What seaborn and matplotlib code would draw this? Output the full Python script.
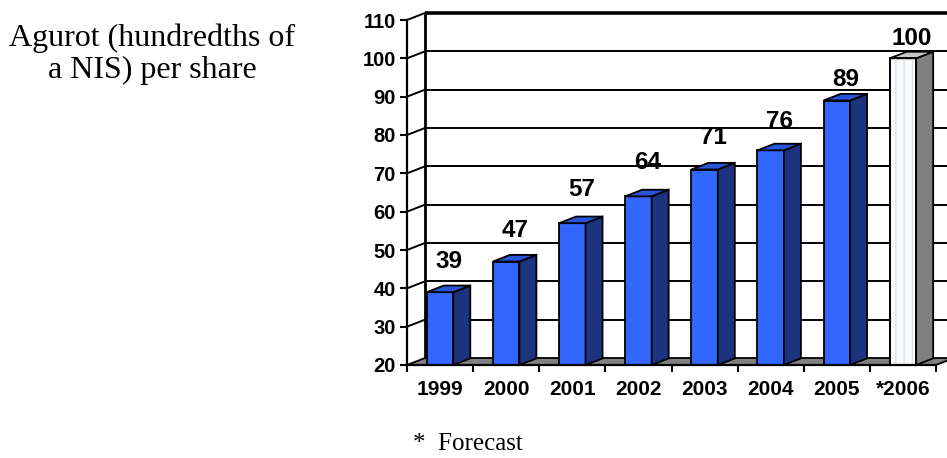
import matplotlib
matplotlib.use("Agg")
import matplotlib.pyplot as plt
import seaborn as sns
import pandas as pd
from matplotlib.patches import Polygon, Rectangle

# ---- data ----
years = ["1999", "2000", "2001", "2002", "2003", "2004", "2005", "*2006"]
values = [39, 47, 57, 64, 71, 76, 89, 100]
y_ticks = [20, 30, 40, 50, 60, 70, 80, 90, 100, 110]
y_label_text = "Agurot (hundredths of\na NIS) per share"
footnote_text = "*  Forecast"

# ---- style ----
label_pad_px = [24, 24, 27, 27, 25, 22, 14, 13]   # gap of value-label centre above bar top (px)
front_cols = ["#3366FF"] * 7 + ["#FAFBFF"]
side_cols = ["#1C3380"] * 7 + ["#808080"]
top_cols = ["#2B55D8"] * 7 + ["#C8C8C8"]

sns.set_style("white")
plt.rcParams["font.family"] = ["Liberation Sans", "DejaVu Sans"]
plt.rcParams["text.color"] = "black"
plt.rcParams["xtick.color"] = "black"
plt.rcParams["ytick.color"] = "black"
plt.rcParams["axes.edgecolor"] = "black"

W, H = 947, 458
fig = plt.figure(figsize=(W / 100, H / 100), dpi=100)
x0, x1, ytop, ybot = 407, 936, 20, 365
ax = fig.add_axes([x0 / W, (H - ybot) / H, (x1 - x0) / W, (ybot - ytop) / H])

df = pd.DataFrame({"year": years, "value": values})
sns.barplot(data=df, x="year", y="value", hue="year", palette=front_cols,
            width=0.4, edgecolor="black", linewidth=1.3, legend=False,
            order=years, ax=ax, zorder=4, saturation=1)
ax.set_xlim(-0.5, 7.5)
ax.set_ylim(20, 110)

ppx = (x1 - x0) / 8.0            # px per category
ppy = (ybot - ytop) / 90.0       # px per value unit
dx = 18 / ppx
dy = 7 / ppy
bdx = 17 / ppx
bdy = 6.6 / ppy

# back wall grid lines & connectors
for v in y_ticks[1:]:
    lw = 2.6 if v == 110 else 1.4
    ax.plot([-0.5 + dx, 7.5 + dx], [v + dy, v + dy], color="black", lw=lw,
            clip_on=False, zorder=1, solid_capstyle="butt")
    ax.plot([-0.5, -0.5 + dx], [v, v + dy], color="black", lw=1.4,
            clip_on=False, zorder=1)
# back wall left edge
ax.plot([-0.5 + dx, -0.5 + dx], [20 + dy, 110 + dy], color="black", lw=2.0,
        clip_on=False, zorder=1)
# floor
floor = Polygon([(-0.5, 20), (7.5, 20), (7.5 + dx, 20 + dy), (-0.5 + dx, 20 + dy)],
                closed=True, facecolor="#808080", edgecolor="black", lw=1.3,
                clip_on=False, zorder=2)
ax.add_patch(floor)

# 3D sides and tops of bars
bars = [p for p in ax.patches if isinstance(p, Rectangle) and p.get_width() < 1]
for i, bar in enumerate(bars):
    xl = bar.get_x()
    xr = xl + bar.get_width()
    v = bar.get_height()
    side = Polygon([(xr, 20), (xr + bdx, 20 + bdy), (xr + bdx, v + bdy), (xr, v)],
                   closed=True, facecolor=side_cols[i], edgecolor="black", lw=1.3,
                   zorder=4, clip_on=False)
    top = Polygon([(xl, v), (xl + bdx, v + bdy), (xr + bdx, v + bdy), (xr, v)],
                  closed=True, facecolor=top_cols[i], edgecolor="black", lw=1.3,
                  zorder=4, clip_on=False)
    ax.add_patch(side)
    ax.add_patch(top)
    if i == 7:
        ax.add_patch(Rectangle((xl, 20), xr - xl, v - 20, facecolor="none",
                               edgecolor="#DCDFEA", hatch="||", lw=0, zorder=4.5))
        ax.add_patch(Rectangle((xl, 20), xr - xl, v - 20, facecolor="none",
                               edgecolor="black", lw=1.3, zorder=4.6))
    ax.text((xl + xr) / 2 + dx / 2, v + bdy + label_pad_px[i] / ppy, str(values[i]),
            ha="center", va="center", fontsize=17.5, fontweight="bold",
            color="black", zorder=6, clip_on=False)

# spines / ticks
for s in ["top", "right"]:
    ax.spines[s].set_visible(False)
ax.spines["left"].set_linewidth(1.6)
ax.spines["bottom"].set_linewidth(1.6)
ax.spines["left"].set_zorder(5)
ax.spines["bottom"].set_zorder(5)
ax.set_yticks(y_ticks)
ax.set_yticklabels([str(t) for t in y_ticks], fontsize=14.5, fontweight="bold")
ax.tick_params(axis="y", direction="out", length=5, width=1.5, pad=3, left=True,
               colors="black")
ax.set_xticks(range(len(years)))
ax.set_xticklabels(years, fontsize=15, fontweight="bold")
ax.tick_params(axis="x", which="major", length=0, pad=11, colors="black")
ax.set_xticks([i - 0.5 for i in range(len(years) + 1)], minor=True)
ax.tick_params(axis="x", which="minor", direction="out", length=5, width=1.5,
               bottom=True, colors="black")
ax.set_xlabel("")
ax.set_ylabel("")
ax.grid(False)

fig.text(152 / W, 1 - 54 / H, y_label_text, ha="center", va="center",
         multialignment="center", fontsize=23, family="Liberation Serif",
         linespacing=1.15, color="black")
fig.text(413 / W, 1 - 450 / H, footnote_text, ha="left", va="baseline",
         fontsize=18, family="Liberation Serif", color="black")

fig.savefig("out.png", dpi=100)
